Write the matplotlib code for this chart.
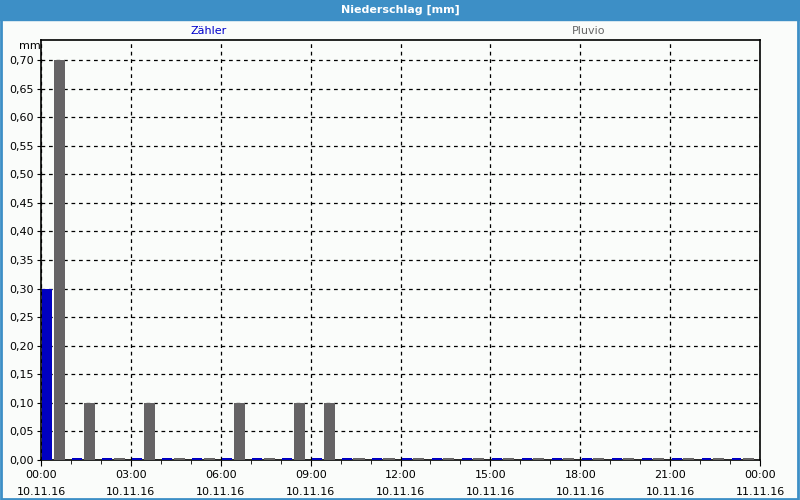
import numpy as np
import matplotlib.pyplot as plt
from matplotlib.patches import Rectangle

# hourly precipitation, 10.11.16 00:00 .. 11.11.16 00:00
hours = list(range(24))
zaehler = [0.30] + [0.0] * 23
pluvio = [0.70, 0.10, 0.0, 0.10, 0.0, 0.0, 0.10, 0.0, 0.10, 0.10] + [0.0] * 14
tick_hours = [0, 3, 6, 9, 12, 15, 18, 21, 24]
tick_labels = ['00:00\n10.11.16', '03:00\n10.11.16', '06:00\n10.11.16', '09:00\n10.11.16',
               '12:00\n10.11.16', '15:00\n10.11.16', '18:00\n10.11.16', '21:00\n10.11.16',
               '00:00\n11.11.16']
y_ticks = [0.0, 0.05, 0.10, 0.15, 0.20, 0.25, 0.30, 0.35, 0.40, 0.45, 0.50, 0.55, 0.60, 0.65, 0.70]

blue = '#0000c0'
grey = '#656365'
frame_blue = '#3d8fc6'
bg = '#fafcfa'

plt.rcParams['font.family'] = ['DejaVu Sans']
fig = plt.figure(figsize=(8, 5), dpi=100, facecolor=bg)

# title bar and outer border
fig.patches.append(Rectangle((0, 0.96), 1, 0.04, transform=fig.transFigure,
                             color=frame_blue, zorder=0))
fig.patches.append(Rectangle((0.001, 0.002), 0.997, 0.996, transform=fig.transFigure,
                             fill=False, edgecolor=frame_blue, linewidth=2, zorder=0))
fig.text(0.5, 0.98, 'Niederschlag [mm]', color='white', fontsize=8, fontweight='bold',
         ha='center', va='center')

ax = fig.add_axes([0.05125, 0.08, 0.89875, 0.84])
ax.set_facecolor(bg)

# zero values are drawn as a thin stub, like the original software does
min_h = 0.004
h = np.array(hours)
ax.bar(h + 0.05, np.maximum(zaehler, min_h), width=0.33, align='edge', color=blue,
       zorder=3)
ax.bar(h + 0.43, np.maximum(pluvio, min_h), width=0.37, align='edge', color=grey,
       zorder=3)

ax.set_xlim(0, 24)
ax.set_ylim(0, 0.735)
ax.set_xticks(tick_hours)
ax.set_xticklabels(tick_labels, fontsize=8, linespacing=1.9)
ax.set_xticks(hours[1:], minor=True)
ax.set_yticks(y_ticks)
ax.set_yticklabels([f'{v:.2f}'.replace('.', ',') for v in y_ticks], fontsize=8)
ax.tick_params(axis='x', which='major', length=4, direction='out', pad=3)
ax.tick_params(axis='x', which='minor', length=3, direction='out')
ax.tick_params(axis='y', length=3, direction='out', pad=2)
ax.grid(True, which='major', color='black', linestyle=(0, (3, 3)), linewidth=0.9, zorder=1)
ax.set_axisbelow(True)
for s in ax.spines.values():
    s.set_color('black')
    s.set_linewidth(1.2)

fig.text(0.0375, 0.908, 'mm', fontsize=8, ha='center', va='center')
fig.text(0.261, 0.938, 'Zähler', fontsize=8, color='#0000cc', ha='center', va='center')
fig.text(0.736, 0.938, 'Pluvio', fontsize=8, color='#666666', ha='center', va='center')

fig.savefig('out.png', dpi=100, facecolor=bg)
